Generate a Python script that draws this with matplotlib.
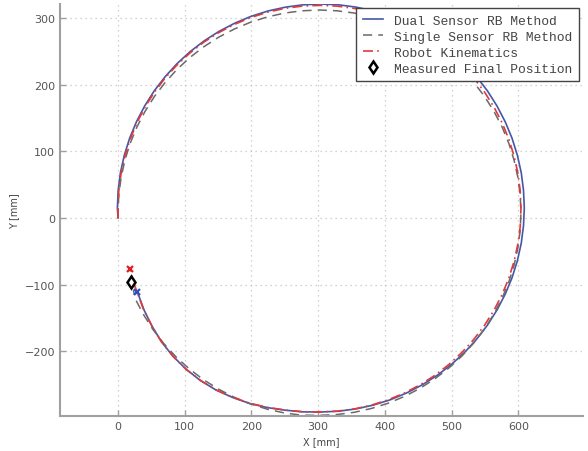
import matplotlib
matplotlib.use("Agg")
import matplotlib.pyplot as plt

# Dual Sensor RB Method (blau, durchgezogen)
dual_x = [0, -1, 0.2, 3.6, 9.4, 17.4, 27.6, 39.9, 54.1, 70.4, 88.3, 107.9, 129.1, 151.5, 175.1,
          199.7, 225.1, 251.1, 277.4, 304, 330.6, 356.9, 382.9, 408.3, 432.9, 456.5, 478.9, 500.1,
          519.7, 537.6, 553.9, 568.1, 580.4, 590.6, 598.6, 604.4, 607.8, 609, 607.8, 604.4, 598.6,
          590.6, 580.4, 568.1, 553.9, 537.6, 519.7, 500.1, 478.9, 456.5, 432.9, 408.3, 382.9,
          356.9, 330.6, 304, 277.2, 250.5, 223.8, 197.3, 171.5, 146.5, 123, 101.5, 82, 65, 50.9,
          39, 29]
dual_y = [0, 15, 41.7, 68.1, 94.2, 119.7, 144.3, 168, 190.5, 211.7, 231.4, 249.4, 265.7, 280,
          292.3, 302.6, 310.6, 316.3, 319.8, 321, 319.8, 316.3, 310.6, 302.6, 292.3, 280, 265.7,
          249.4, 231.4, 211.7, 190.5, 168, 144.3, 119.7, 94.2, 68.1, 41.7, 15, -11.7, -38.1, -64.2,
          -89.7, -114.3, -138, -160.5, -181.7, -201.4, -219.4, -235.7, -250, -262.3, -272.6,
          -280.6, -286.3, -289.8, -291, -290.8, -288.3, -284.4, -278.2, -269.1, -257.8, -243.5,
          -226.3, -207, -185.6, -162.2, -138, -111]

# Single Sensor RB Method (grau, gestrichelt)
single_x = [0, 0, 1.1, 4.6, 10.3, 18.2, 28.3, 40.5, 54.6, 70.7, 88.5, 107.9, 128.8, 151, 174.4,
            198.7, 223.8, 249.6, 275.7, 302, 328.3, 354.4, 380.2, 405.3, 429.6, 453, 475.2, 496.1,
            515.5, 533.3, 549.4, 563.5, 575.7, 585.8, 593.7, 599.4, 602.9, 604, 602.9, 599.4,
            593.7, 585.8, 575.7, 563.5, 549.4, 533.3, 515.5, 496.1, 475.2, 453, 429.6, 405.3,
            380.2, 354.4, 328.3, 302, 275.4, 249, 223.1, 197.7, 173.1, 149.5, 127.1, 105.9, 86.3,
            68.4, 52.1, 37.9, 25.6, 23]
single_y = [0, 8, 34.5, 60.8, 86.7, 112, 136.5, 160, 182.4, 203.4, 223, 240.9, 257, 271.3, 283.5,
            293.7, 301.6, 307.4, 310.8, 312, 310.8, 307.4, 301.6, 293.7, 283.5, 271.3, 257, 240.9,
            223, 203.4, 182.4, 160, 136.5, 112, 86.7, 60.8, 34.5, 8, -18.5, -44.8, -70.7, -96,
            -120.5, -144, -166.4, -187.4, -207, -224.9, -241, -255.3, -267.5, -277.7, -285.6,
            -291.4, -294.8, -296, -295.8, -292.4, -286.6, -278.6, -268.4, -256.1, -241.9, -225.6,
            -207.7, -188.1, -166.9, -144.5, -120.9, -108]

# Robot Kinematics (rot, Strich-Punkt)
robot_x = [0, 0, 1.1, 4.6, 10.3, 18.2, 28.3, 40.5, 54.6, 70.7, 88.5, 107.9, 128.8, 151, 174.4,
           198.7, 223.8, 249.6, 275.7, 302, 328.3, 354.4, 380.2, 405.3, 429.6, 453, 475.2, 496.1,
           515.5, 533.3, 549.4, 563.5, 575.7, 585.8, 593.7, 599.4, 602.9, 604, 602.9, 599.4,
           593.7, 585.8, 575.7, 563.5, 549.4, 533.3, 515.5, 496.1, 475.2, 453, 429.6, 405.3,
           380.2, 354.4, 328.3, 302, 276, 250, 223.5, 198, 172, 147, 123.5, 102, 82.5, 65.5, 51,
           38.5, 29, 22.5, 18]
robot_y = [0, 14, 40.6, 67, 92.9, 118.3, 142.9, 166.5, 188.9, 210.1, 229.7, 247.6, 263.9, 278.1,
           290.4, 300.6, 308.6, 314.4, 317.8, 319, 317.8, 314.4, 308.6, 300.6, 290.4, 278.1, 263.9,
           247.6, 229.7, 210.1, 188.9, 166.5, 142.9, 118.3, 92.9, 67, 40.6, 14, -12.6, -39, -64.9,
           -90.3, -114.9, -138.5, -160.9, -182.1, -201.7, -219.6, -235.9, -250.1, -262.4, -272.6,
           -280.6, -286.4, -289.8, -291, -290.6, -288, -284, -278, -269, -258, -243.5, -227,
           -207.5, -186, -162.5, -138, -112, -95, -77]

# Gemessene Endposition
measured_x = [20]
measured_y = [-96.5]

x_ticks = [0, 100, 200, 300, 400, 500, 600]
y_ticks = [-200, -100, 0, 100, 200, 300]

fig = plt.figure(figsize=(5.88, 4.52), dpi=100)
ax = fig.add_axes([60 / 588, 35 / 452, 523 / 588, 412 / 452])

ax.plot(dual_x, dual_y, color="#4358a8", lw=1.2, label="Dual Sensor RB Method")
ax.plot(single_x, single_y, color="#6a6a6a", lw=1.1, linestyle=(0, (6, 4)),
        label="Single Sensor RB Method")
ax.plot(robot_x, robot_y, color="#e03a3a", lw=1.2, linestyle=(0, (6, 2.5, 1, 2.5)),
        label="Robot Kinematics")

# Endpunkte der Trajektorien
ax.plot(dual_x[-1], dual_y[-1], "x", color="#3050c0", ms=5, mew=1.6)
ax.plot(robot_x[-1], robot_y[-1], "x", color="#e02020", ms=5, mew=1.6)
ax.plot(measured_x, measured_y, "d", color="black", mfc="white", ms=6.5, mew=1.8, ls="none",
        label="Measured Final Position")

ax.set_xlim(-87, 697)
ax.set_ylim(-297, 321)
ax.set_xticks(x_ticks)
ax.set_yticks(y_ticks)

# Achsen im Stil der Vorlage
for side in ["top", "right"]:
    ax.spines[side].set_visible(False)
for side in ["left", "bottom"]:
    ax.spines[side].set_color("#a0a0a0")
    ax.spines[side].set_linewidth(1.5)
ax.tick_params(direction="in", length=4, width=1, color="#a0a0a0", labelcolor="#555555",
               labelsize=8)
ax.grid(True, color="#c4c4c4", linestyle=(0, (1, 3)), lw=0.9)

ax.set_xlabel("X [mm]", fontsize=7, color="#444444", labelpad=4)
ax.set_ylabel("Y [mm]", fontsize=7, color="#444444", labelpad=4)

leg = ax.legend(loc="upper right", prop={"family": "Liberation Mono", "size": 9.4},
                handlelength=1.5, handletextpad=0.9, borderpad=0.5, labelspacing=0.3,
                borderaxespad=0.3, fancybox=False, framealpha=1, edgecolor="#444444")
leg.get_frame().set_linewidth(1.0)
for t in leg.get_texts():
    t.set_color("#444444")

fig.savefig("out.png", dpi=100)
